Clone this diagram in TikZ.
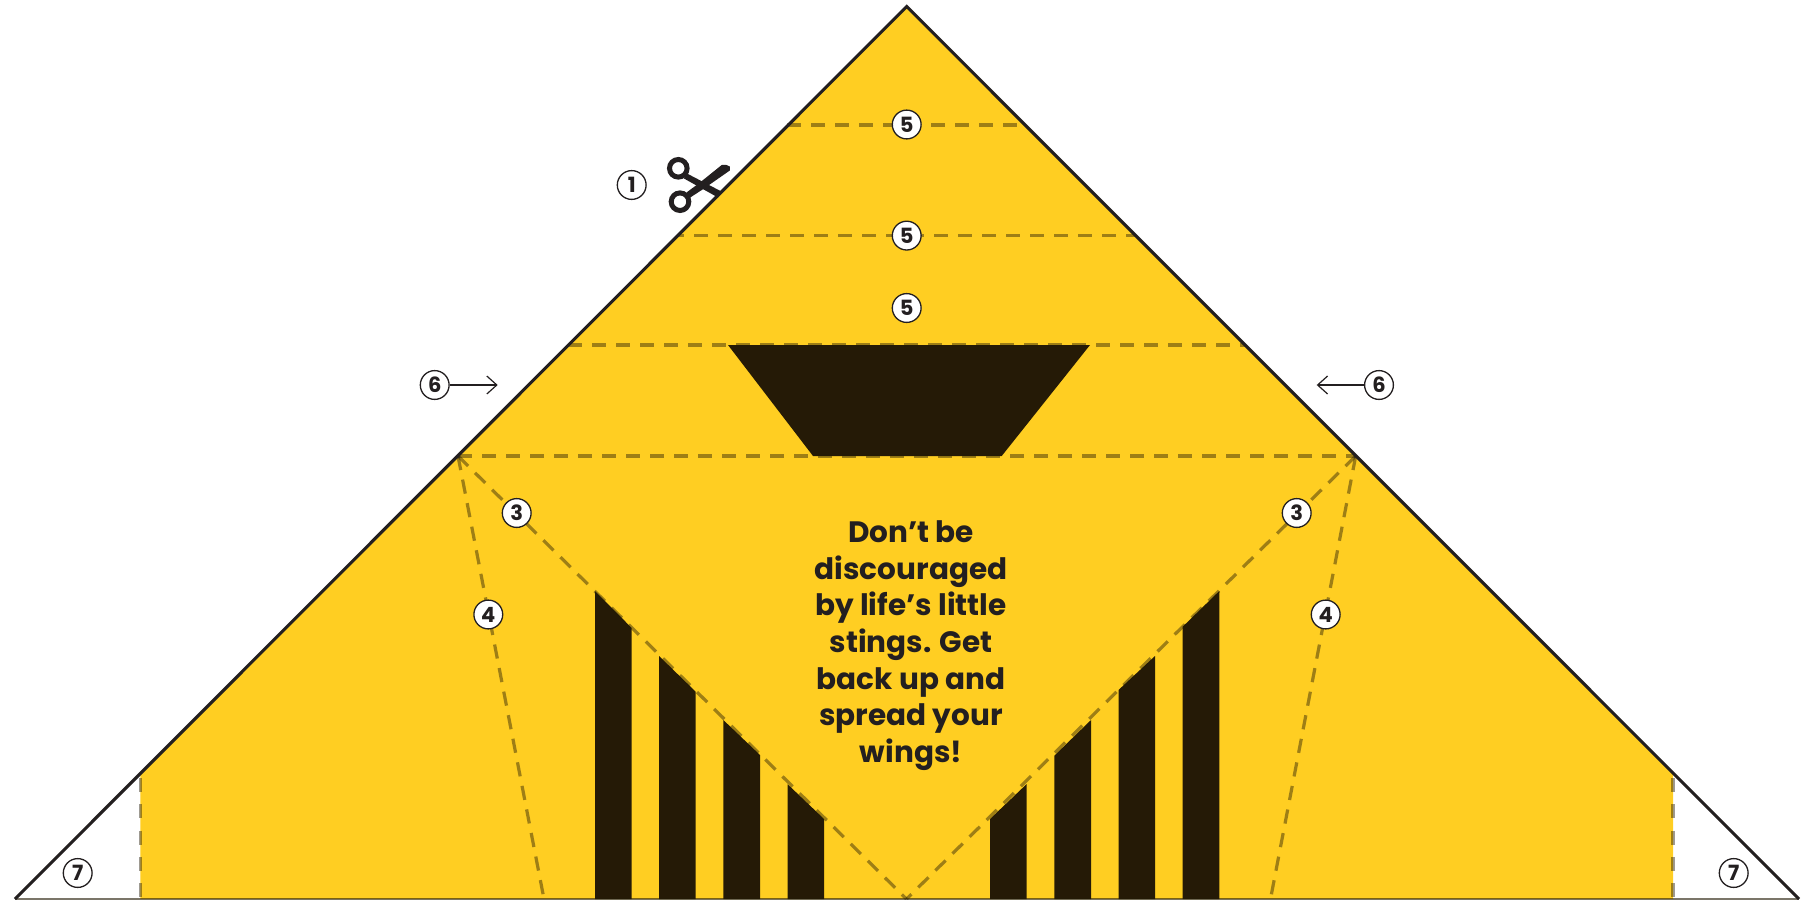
\documentclass[tikz,border=0pt]{standalone}
\usepackage{fontspec}
\setmainfont{Poppins}
\usetikzlibrary{arrows.meta}
\definecolor{beeyellow}{HTML}{FFCE22}
\definecolor{beedark}{HTML}{251A06}
\definecolor{inkdark}{HTML}{231F20}
\definecolor{foldink}{HTML}{231A05}
\tikzset{
  fold/.style={draw=foldink,draw opacity=.44,line width=3.2bp,dash pattern=on 14.3bp off 9.7bp},
  foldb/.style={fold,dash pattern=on 14bp off 12.3bp},
  cutedge/.style={draw=inkdark,line width=3.1bp,line join=miter},
  numcirc/.style={circle,draw=inkdark,fill=white,line width=1.3bp,inner sep=0pt,minimum size=28.8bp,text=inkdark,font=\bfseries\fontsize{21bp}{22bp}\selectfont},
  pointer/.style={draw=inkdark,line width=1.2bp,-{Straight Barb[length=10bp,width=18bp,line width=1.2bp]}},
  barfill/.style={fill=beedark},
  scis/.style={draw=inkdark,line width=5bp}
}
\begin{document}
\begin{tikzpicture}[x=1bp,y=-1bp]
\useasboundingbox (0,0) rectangle (1811,900);
% corners
\coordinate (apex) at (906.7,6.5);
\coordinate (bl) at (15,899);
\coordinate (br) at (1799,899);
\coordinate (vl) at (140.3,774);
\coordinate (vr) at (1673,774);
\coordinate (vlb) at (140.3,899);
\coordinate (vrb) at (1673,899);
% paper
\fill[beeyellow] (apex) -- (vr) -- (vrb) -- (vlb) -- (vl) -- cycle;
% trapezoid
\fill[barfill] (728,345) -- (1090,345) -- (1001.7,456) -- (813,456) -- cycle;
% bars left
\fill[barfill] (595,591) -- (631.7,628) -- (631.7,899) -- (595,899) -- cycle;
\fill[barfill] (659,656) -- (695.7,691.7) -- (695.7,899) -- (659,899) -- cycle;
\fill[barfill] (723.3,720) -- (760,755) -- (760,899) -- (723.3,899) -- cycle;
\fill[barfill] (787.7,784.3) -- (824,819) -- (824,899) -- (787.7,899) -- cycle;
% bars right
\fill[barfill] (990,819) -- (1026.7,784) -- (1026.7,899) -- (990,899) -- cycle;
\fill[barfill] (1054.3,755.7) -- (1091,720) -- (1091,899) -- (1054.3,899) -- cycle;
\fill[barfill] (1118.5,690) -- (1155,656) -- (1155,899) -- (1118.5,899) -- cycle;
\fill[barfill] (1182.7,626.7) -- (1219.3,591) -- (1219.3,899) -- (1182.7,899) -- cycle;
% fold points
\coordinate (a1) at (787,125); \coordinate (b1) at (1024,125);
\coordinate (a2) at (678,235.6); \coordinate (b2) at (1135,235.6);
\coordinate (a3) at (568,345); \coordinate (b3) at (1245,345);
\coordinate (a4) at (458,456); \coordinate (b4) at (1355.7,456);
\coordinate (mid) at (906.5,899);
\coordinate (l4) at (544,899); \coordinate (r4) at (1270.5,899);
% fold lines
\path[fold] (a1) -- (b1);
\path[fold,dash phase=8bp] (a2) -- (b2);
\path[fold] (a3) -- (b3);
\path[fold] (a4) -- (b4);
\path[fold] (a4) -- (mid);
\path[fold] (b4) -- (mid);
\path[fold] (a4) -- (l4);
\path[fold] (b4) -- (r4);
\path[foldb] (vl) ++(0,4) -- (vlb);
\path[foldb] (vr) ++(0,4) -- (vrb);
\path[draw=foldink,draw opacity=.6,line width=2bp] (bl) -- (br);
% scissors
\draw[scis] (678.3,168.3) circle (8.8);
\draw[scis] (680,201.7) circle (8.8);
\fill[inkdark] (686,173) -- (720.5,191) -- (718,197.5) -- (684,178.5) -- cycle;
\fill[inkdark] (686.5,192.5) -- (700,182.5) -- (721.7,165) -- (726,164.8) -- (729.8,166.5) -- (729.8,170.5) -- (703.3,189) -- (689.5,198) -- cycle;
% cut edges
\path[cutedge] (bl) -- (apex) -- (br);
% pointers
\node[numcirc] (n6l) at (434.7,385) {6};
\node[numcirc] (n6r) at (1379,385) {6};
\coordinate (t6l) at (497.7,385);
\coordinate (t6r) at (1316.7,385);
\draw[pointer] (n6l) -- (t6l);
\draw[pointer] (n6r) -- (t6r);
% numbered circles
\node[numcirc] (n1) at (631.7,185) {1};
\node[numcirc] (n5a) at (906.7,124.5) {5};
\node[numcirc] (n5b) at (906.7,235.6) {5};
\node[numcirc] (n5c) at (906.7,308) {5};
\node[numcirc] (n3l) at (516.7,513) {3};
\node[numcirc] (n3r) at (1296.7,513) {3};
\node[numcirc] (n4l) at (488.3,614.5) {4};
\node[numcirc] (n4r) at (1325.7,614.5) {4};
\node[numcirc] (n7l) at (77.7,873) {7};
\node[numcirc] (n7r) at (1733.7,873) {7};
% message
\node[align=center,inner sep=0pt,text=inkdark,font=\bfseries\fontsize{29.5bp}{36.67bp}\selectfont] (msg) at (911,645.5) {Don’t be\\discouraged\\by life’s little\\stings. Get\\back up and\\spread your\\wings!};
\end{tikzpicture}
\end{document}
